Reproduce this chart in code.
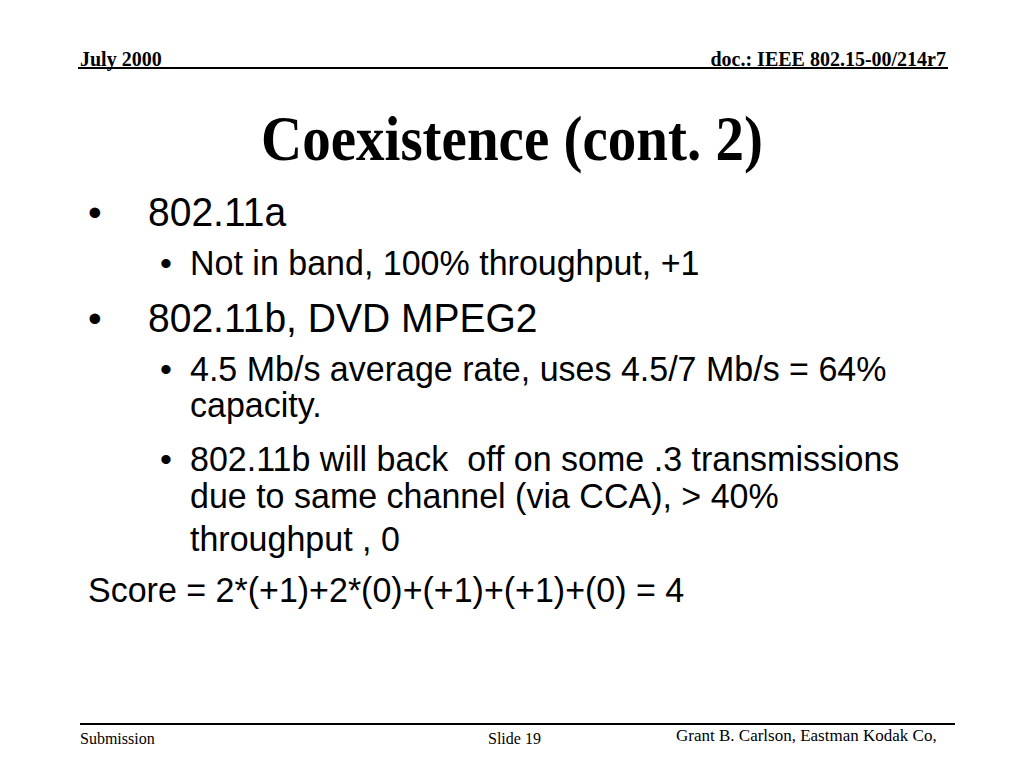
<!DOCTYPE html>
<html>
<head>
<meta charset="utf-8">
<script src="https://cdn.jsdelivr.net/npm/chart.js@4.4.1/dist/chart.umd.min.js"></script>
<style>
  html, body { margin: 0; padding: 0; background: #fff; }
  #slide { position: relative; width: 1024px; height: 768px; overflow: hidden; color: #000; }
  .t { position: absolute; white-space: pre; line-height: 1; }
  .serif { font-family: "Liberation Serif", "Times New Roman", serif; }
  .sans { font-family: "Liberation Sans", Arial, sans-serif; }
  .rule { position: absolute; background: #000; }
</style>
</head>
<body>
<div id="slide"></div>
<script>
// slide text, one entry per rendered line
const headerLeft = "July 2000";
const headerRight = "doc.: IEEE 802.15-00/214r7";
const title = "Coexistence (cont. 2)";
const footerLeft = "Submission";
const footerMid = "Slide 19";
const footerRight = "Grant B. Carlson, Eastman Kodak Co,";

// [level, bullet?, text, baseline y]
const bodyLines = [
  [1, true, "802.11a", 226],
  [2, true, "Not in band, 100% throughput, +1", 275],
  [1, true, "802.11b, DVD MPEG2", 332],
  [2, true, "4.5 Mb/s average rate, uses 4.5/7 Mb/s = 64%", 381],
  [2, false, "capacity.", 417],
  [2, true, "802.11b will back  off on some .3 transmissions", 471],
  [2, false, "due to same channel (via CCA), > 40%", 508],
  [2, false, "throughput , 0", 551],
  [0, false, "Score = 2*(+1)+2*(0)+(+1)+(+1)+(0) = 4", 602],
];

const slide = document.getElementById("slide");

// place a text line so that its baseline lands at y
function addText(text, cls, size, x, baseline, opts) {
  opts = opts || {};
  const el = document.createElement("div");
  el.className = "t " + cls;
  el.textContent = text;
  el.style.fontSize = size + "px";
  const asc = cls === "serif" ? 0.8375 : 0.8465;
  el.style.top = (baseline - asc * size) + "px";
  if (opts.bold) el.style.fontWeight = "bold";
  let tf = "";
  if (opts.right) {
    el.style.right = (1024 - x) + "px";
  } else if (opts.center) {
    el.style.left = x + "px";
    tf += "translateX(-50%) ";
  } else {
    el.style.left = x + "px";
  }
  if (opts.sy) {
    // stretch vertically about the baseline
    el.style.transformOrigin = "50% " + (asc * size) + "px";
    tf += "scaleY(" + opts.sy + ")";
  }
  if (tf) el.style.transform = tf;
  slide.appendChild(el);
  return el;
}

function addRule(x1, x2, y, h) {
  const r = document.createElement("div");
  r.className = "rule";
  r.style.left = x1 + "px";
  r.style.width = (x2 - x1) + "px";
  r.style.top = y + "px";
  r.style.height = h + "px";
  slide.appendChild(r);
}

// header
addText(headerLeft, "serif", 20, 80, 66, { bold: true, sy: 1.06 });
addText(headerRight, "serif", 20, 946, 66, { bold: true, right: true, sy: 1.06 });
addRule(78, 948, 67, 2);

// title
addText(title, "serif", 57, 512, 160, { bold: true, center: true, sy: 1.1 });

// body
bodyLines.forEach(function (line) {
  const level = line[0], bullet = line[1], text = line[2], y = line[3];
  if (level === 1) {
    if (bullet) addText("\u2022", "sans", 39, 88, y);
    addText(text, "sans", 39, 148, y, { sy: 1.03 });
  } else if (level === 2) {
    if (bullet) addText("\u2022", "sans", 34, 160, y);
    addText(text, "sans", 34, 190, y, { sy: 1.03 });
  } else {
    addText(text, "sans", 34, 88, y, { sy: 1.03 });
  }
});

// footer
addRule(80, 955, 723, 2);
addText(footerLeft, "serif", 16, 80, 744);
addText(footerMid, "serif", 16, 488, 744);
addText(footerRight, "serif", 17, 676, 741);
</script>
</body>
</html>
